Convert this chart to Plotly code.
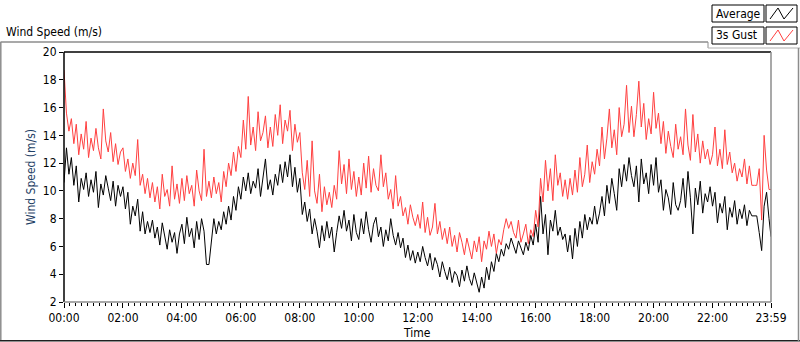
import plotly.graph_objects as go

# ---------------- data (minutes since midnight, 5-min samples) ----------------
minutes = list(range(0, 1440, 5)) + [1439]

average = [
    10.6, 13.1, 11.2, 12.4, 10.4, 11.8, 9.2, 10.9, 10.1, 11.3, 9.6, 10.8,
    9.9, 11.4, 8.8, 10.5, 9.7, 11.1, 10.2, 9.3, 10.7, 8.9, 10.4, 9.6,
    10.3, 8.7, 9.9, 7.6, 8.9, 8.2, 9.4, 7.1, 8.5, 6.9, 7.8, 7.0,
    7.9, 6.6, 7.4, 6.1, 7.7, 6.8, 5.8, 7.2, 6.3, 7.0, 5.5, 6.9,
    7.6, 6.2, 8.1, 6.7, 7.3, 5.9, 7.8, 6.5, 8.0, 7.1, 4.7, 4.7,
    6.3, 8.0, 6.9, 7.8, 7.2, 8.5, 7.6, 8.9, 7.9, 9.6, 8.6, 10.3,
    9.4, 11.0, 10.0, 11.3, 9.8, 10.7, 10.2, 11.6, 9.6, 10.9, 12.3, 10.1,
    10.8, 9.7, 11.2, 10.4, 11.9, 10.6, 12.1, 11.0, 12.6, 10.3, 11.7, 9.9,
    10.9, 8.3, 9.2, 7.8, 8.7, 6.9, 8.0, 7.1, 5.9, 7.5, 6.4, 7.8,
    6.6, 7.4, 5.6, 7.0, 8.2, 7.3, 8.6, 7.1, 7.9, 6.4, 8.3, 7.0,
    6.5, 8.0, 6.9, 8.5, 7.2, 6.3, 7.6, 8.1, 6.7, 7.4, 6.0, 7.2,
    6.4, 8.0, 6.8, 6.1, 7.0, 5.9, 6.6, 5.2, 6.1, 5.0, 5.7, 4.8,
    5.6, 4.9, 6.0, 5.2, 4.6, 5.5, 4.3, 5.2, 4.7, 3.8, 4.9, 4.2,
    3.6, 4.5, 3.4, 4.2, 3.9, 3.1, 4.3, 3.5, 4.6, 3.7, 3.2, 4.1,
    3.4, 2.7, 3.8, 3.0, 4.5, 3.6, 4.9, 4.2, 5.5, 4.9, 5.8, 5.3,
    6.2, 5.8, 6.6, 6.0, 5.5, 6.4, 5.9, 5.4, 6.3, 5.7, 6.8, 6.1,
    7.6, 6.3, 9.6, 6.9, 8.3, 5.4, 7.9, 7.1, 8.6, 6.8, 7.4, 6.5,
    6.9, 5.6, 6.8, 5.1, 7.3, 6.0, 7.8, 6.6, 8.3, 7.2, 8.1, 7.6,
    8.9, 7.6, 8.4, 9.6, 8.2, 10.4, 9.1, 10.9, 9.8, 8.6, 11.6, 10.3,
    11.9, 10.7, 12.4, 11.1, 10.3, 11.8, 9.2, 12.3, 10.5, 11.3, 9.8, 11.9,
    10.4, 12.4, 9.9, 10.8, 8.6, 10.1, 9.5, 8.3, 10.6, 9.0, 8.6, 9.3,
    10.9, 8.8, 11.4, 9.5, 6.9, 10.2, 9.0, 10.7, 8.4, 9.8, 9.2, 10.3,
    8.9, 9.9, 7.7, 9.1, 8.4, 9.6, 7.2, 8.8, 8.1, 9.3, 7.6, 8.7,
    8.0, 9.0, 7.5, 8.6, 8.2, 8.2, 8.2, 7.0, 5.7, 8.9, 9.9, 8.0,
    6.7,
]

gust = [
    18.7, 15.6, 14.3, 15.2, 13.4, 14.8, 12.6, 14.1, 13.0, 15.0, 12.4, 13.8,
    12.9, 14.5, 13.1, 12.3, 15.9, 13.6, 12.8, 14.2, 12.1, 13.4, 11.9, 12.8,
    13.1, 11.4, 12.3, 10.9, 12.0, 11.1, 13.7, 10.4, 11.2, 9.8, 10.9, 9.5,
    10.6, 9.2, 10.3, 8.7, 11.2, 9.6, 10.1, 8.9, 11.8, 9.4, 10.5, 9.1,
    10.9, 9.3, 11.1, 9.8, 10.4, 8.9, 11.5, 10.0, 9.3, 13.0, 9.6, 10.7,
    9.5, 11.0, 9.8, 10.6, 9.2, 11.4, 10.3, 12.0, 11.1, 12.8, 11.4, 13.2,
    12.4, 15.1, 13.0, 16.8, 13.3, 14.6, 12.9, 15.7, 13.6, 14.2, 15.4, 13.1,
    14.6, 13.2, 15.5, 14.0, 16.2, 13.4, 15.1, 14.3, 15.8, 12.9, 14.8, 13.5,
    14.2, 11.3, 10.1, 12.2, 9.6, 13.6, 10.0, 9.1, 11.2, 8.5, 10.3, 9.0,
    9.9, 8.8, 10.4, 9.4, 12.9, 10.5, 11.9, 9.8, 12.3, 10.1, 11.4, 9.6,
    11.0, 9.7, 12.0, 10.2, 12.5, 9.9, 11.6, 10.4, 10.0, 12.6, 10.3, 11.3,
    9.4, 10.1, 8.7, 11.1, 8.9, 9.6, 8.2, 8.8, 7.6, 9.0, 8.1, 7.5,
    8.3, 7.3, 9.2, 7.0, 8.1, 6.8, 7.4, 9.1, 6.9, 7.8, 6.5, 7.3,
    6.2, 7.4, 6.0, 6.8, 5.6, 7.0, 6.3, 5.4, 6.6, 5.9, 5.1, 6.4,
    5.6, 6.7, 4.9, 6.4, 5.8, 7.1, 6.0, 6.9, 5.5, 6.5, 6.1, 7.2,
    8.0, 7.3, 7.8, 7.0, 6.6, 7.9, 6.3, 6.9, 7.6, 6.2, 7.2, 6.7,
    8.6, 7.4, 10.9, 9.2, 12.2, 10.0, 11.6, 9.3, 12.6, 10.4, 11.3, 9.6,
    10.8, 9.4, 10.9, 9.7, 11.5, 9.9, 12.4, 10.3, 11.2, 13.3, 10.6, 12.1,
    11.2, 13.0, 11.8, 14.6, 12.3, 13.8, 15.9, 13.1, 14.4, 12.6, 16.0, 13.9,
    14.8, 17.6, 14.2, 16.1, 13.9, 15.5, 17.9, 14.6, 16.3, 13.7, 15.2, 14.1,
    17.1, 14.5, 15.6, 13.4, 15.0, 12.7, 14.3, 13.2, 12.4, 14.8, 13.0, 13.9,
    12.6, 15.9, 13.3, 12.2, 15.5, 12.8, 14.1, 12.0, 13.6, 12.3, 13.0, 11.9,
    12.6, 14.6, 11.8, 13.0, 11.6, 14.4, 11.9, 12.8, 11.3, 12.0, 10.7, 11.6,
    11.0, 12.3, 10.5, 11.8, 10.4, 10.4, 10.4, 11.6, 7.9, 14.0, 11.5, 10.1,
    10.1,
]

tick_minutes = [0, 120, 240, 360, 480, 600, 720, 840, 960, 1080, 1200, 1320, 1439]
tick_labels = ["00:00", "02:00", "04:00", "06:00", "08:00", "10:00", "12:00",
               "14:00", "16:00", "18:00", "20:00", "22:00", "23:59"]
y_ticks = [2, 4, 6, 8, 10, 12, 14, 16, 18, 20]

series_names = ["Average", "3s Gust"]
series_colors = ["#000000", "#ff4040"]

# ---------------- figure ----------------
W, H = 800, 342
L, R, T, B = 64, 29, 52, 40
PW, PH = W - L - R, H - T - B

def px(x):
    return (x - L) / PW

def py(y):
    return (H - B - y) / PH

FONT = "Liberation Sans Narrow, DejaVu Sans Condensed, Liberation Sans, Arial"

fig = go.Figure()
for name, vals, col in zip(series_names, [average, gust], series_colors):
    fig.add_trace(go.Scatter(x=minutes, y=vals, mode="lines", name=name,
                             line=dict(color=col, width=1)))

shapes = []
# plot frame: top/left dark, bottom/right gray
shapes.append(dict(type="line", xref="paper", yref="paper", x0=0, x1=1, y0=1, y1=1,
                   line=dict(color="#000000", width=1.5)))
shapes.append(dict(type="line", xref="paper", yref="paper", x0=0, x1=0, y0=0, y1=1,
                   line=dict(color="#000000", width=1.5)))
shapes.append(dict(type="line", xref="paper", yref="paper", x0=0, x1=1, y0=0, y1=0,
                   line=dict(color="#8c8c8c", width=1.5)))
shapes.append(dict(type="line", xref="paper", yref="paper", x0=1, x1=1, y0=0, y1=1,
                   line=dict(color="#8c8c8c", width=1.5)))
# outer frame
shapes.append(dict(type="line", xref="paper", yref="paper", x0=px(0.5), x1=px(708), y0=py(42), y1=py(42),
                   line=dict(color="#8c8c8c", width=1.5)))
shapes.append(dict(type="line", xref="paper", yref="paper", x0=px(708), x1=px(708), y0=py(42), y1=py(48),
                   line=dict(color="#8c8c8c", width=1)))
shapes.append(dict(type="line", xref="paper", yref="paper", x0=px(708), x1=px(800), y0=py(48), y1=py(48),
                   line=dict(color="#b0b0b0", width=1)))
shapes.append(dict(type="line", xref="paper", yref="paper", x0=px(0.8), x1=px(0.8), y0=py(42), y1=py(341),
                   line=dict(color="#8c8c8c", width=1.5)))
shapes.append(dict(type="line", xref="paper", yref="paper", x0=px(0), x1=px(800), y0=py(340.8), y1=py(340.8),
                   line=dict(color="#202020", width=1.5)))
shapes.append(dict(type="line", xref="paper", yref="paper", x0=px(798.5), x1=px(798.5), y0=py(48), y1=py(341),
                   line=dict(color="#8c8c8c", width=1.5)))

annotations = []
annotations.append(dict(text="Wind Speed (m/s)", xref="paper", yref="paper",
                        x=px(4), y=py(32), xanchor="left", yanchor="middle",
                        showarrow=False, font=dict(family=FONT, size=12, color="#000000")))
annotations.append(dict(text="Time", xref="paper", yref="paper",
                        x=px(417), y=py(333), xanchor="center", yanchor="middle",
                        showarrow=False, font=dict(family=FONT, size=12, color="#000000")))
annotations.append(dict(text="Wind Speed (m/s)", xref="paper", yref="paper",
                        x=px(31), y=py(177), xanchor="center", yanchor="middle", textangle=-90,
                        showarrow=False, font=dict(family=FONT, size=12, color="#1f3f66")))

# custom LabVIEW-style legend
legend_rows = [(5, 22), (27, 44)]
for (y0, y1), name, col in zip(legend_rows, series_names, series_colors):
    shapes.append(dict(type="rect", xref="paper", yref="paper",
                       x0=px(712), x1=px(764), y0=py(y1), y1=py(y0),
                       line=dict(color="#000000", width=1), fillcolor="#ffffff"))
    shapes.append(dict(type="rect", xref="paper", yref="paper",
                       x0=px(766), x1=px(797), y0=py(y1), y1=py(y0),
                       line=dict(color="#000000", width=1), fillcolor="#ffffff"))
    xs = [770, 778, 784, 793]
    ys = [y1 - 3, y0 + 3, y1 - 3, y0 + 3]
    path = "M " + " L ".join(f"{px(a)},{py(b)}" for a, b in zip(xs, ys))
    shapes.append(dict(type="path", xref="paper", yref="paper", path=path,
                       line=dict(color=col, width=1)))
    annotations.append(dict(text=name, xref="paper", yref="paper",
                            x=px(714), y=py((y0 + y1) / 2), xanchor="left", yanchor="middle",
                            showarrow=False, font=dict(family=FONT, size=12, color="#000000")))

fig.update_layout(
    width=W, height=H,
    margin=dict(l=L, r=R, t=T, b=B, pad=0, autoexpand=False),
    paper_bgcolor="#ffffff", plot_bgcolor="#ffffff",
    showlegend=False,
    shapes=shapes, annotations=annotations,
    font=dict(family=FONT, size=12, color="#000000"),
    xaxis=dict(range=[0, 1439], tickmode="array", tickvals=tick_minutes, ticktext=tick_labels,
               ticks="outside", ticklen=5, tickcolor="#000000", tickwidth=1,
               showgrid=False, zeroline=False, showline=False, automargin=False,
               minor=dict(tick0=0, dtick=12, ticks="outside", ticklen=3, tickcolor="#000000", showgrid=False),
               tickfont=dict(family=FONT, size=12)),
    yaxis=dict(range=[2, 20], tickmode="array", tickvals=y_ticks,
               ticks="outside", ticklen=4, tickcolor="#000000",
               showgrid=False, zeroline=False, showline=False, automargin=False,
               tickfont=dict(family=FONT, size=12)),
)

fig.write_html("out.html", config={"displayModeBar": False},
               post_script="document.body.style.margin='0';document.body.style.padding='0';")
